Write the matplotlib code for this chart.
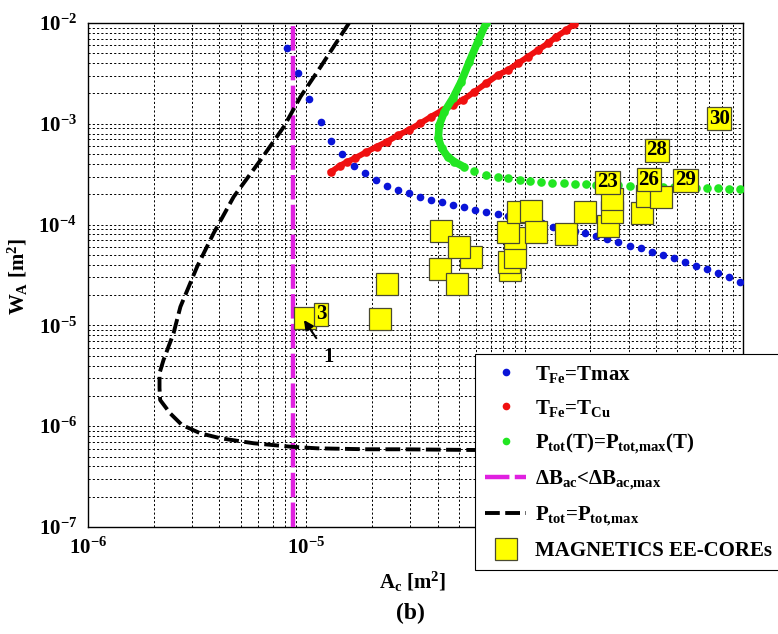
import math

import matplotlib
matplotlib.use("Agg")
import matplotlib.pyplot as plt
from matplotlib.ticker import FixedLocator, LogLocator, NullFormatter

plt.rcParams["font.family"] = ["Liberation Serif", "DejaVu Serif"]
plt.rcParams["font.weight"] = "bold"
plt.rcParams["mathtext.fontset"] = "custom"
plt.rcParams["mathtext.rm"] = "Liberation Serif:bold"
plt.rcParams["mathtext.it"] = "Liberation Serif:bold"
plt.rcParams["mathtext.bf"] = "Liberation Serif:bold"

# -------------------------------
# Data
# -------------------------------
tmax_x = [8.12e-6, 9.19e-6, 1.032e-5, 1.163e-5, 1.302e-5, 1.464e-5, 1.655e-5,
          1.853e-5, 2.082e-5, 2.338e-5, 2.618e-5, 2.94e-5, 3.315e-5, 3.724e-5,
          4.18e-5, 4.70e-5, 5.30e-5, 5.95e-5, 6.68e-5, 7.51e-5, 8.43e-5,
          9.48e-5, 1.064e-4, 1.196e-4, 1.343e-4, 1.509e-4, 1.695e-4, 1.898e-4,
          2.117e-4, 2.395e-4, 2.69e-4, 3.024e-4, 3.40e-4, 3.815e-4, 4.29e-4,
          4.82e-4, 5.41e-4, 6.08e-4, 6.82e-4, 7.67e-4, 8.64e-4, 9.70e-4]
tmax_y = [5.69e-3, 3.17e-3, 1.75e-3, 1.05e-3, 6.75e-4, 4.98e-4, 3.84e-4,
          3.23e-4, 2.77e-4, 2.43e-4, 2.20e-4, 2.04e-4, 1.89e-4, 1.75e-4,
          1.66e-4, 1.56e-4, 1.48e-4, 1.40e-4, 1.34e-4, 1.28e-4, 1.217e-4,
          1.154e-4, 1.093e-4, 1.037e-4, 9.53e-5, 9.04e-5, 8.64e-5, 8.2e-5,
          7.76e-5, 7.20e-5, 6.67e-5, 6.17e-5, 5.82e-5, 5.38e-5, 4.99e-5,
          4.63e-5, 4.26e-5, 3.91e-5, 3.60e-5, 3.29e-5, 3.00e-5, 2.71e-5]

tcu_x = [1.302e-5, 1.427e-5, 1.543e-5, 1.667e-5, 1.873e-5, 2.097e-5, 2.338e-5,
         2.618e-5, 2.94e-5, 3.326e-5, 3.724e-5, 4.213e-5, 4.685e-5, 5.206e-5,
         5.89e-5, 6.66e-5, 7.54e-5, 8.38e-5, 9.32e-5, 1.036e-4, 1.151e-4,
         1.279e-4, 1.397e-4, 1.552e-4, 1.685e-4]
tcu_y = [3.35e-4, 3.84e-4, 4.21e-4, 4.55e-4, 5.22e-4, 5.93e-4, 6.64e-4,
         7.66e-4, 8.68e-4, 1.01e-3, 1.176e-3, 1.37e-3, 1.536e-3, 1.72e-3,
         2.08e-3, 2.52e-3, 3.05e-3, 3.42e-3, 3.98e-3, 4.63e-3, 5.40e-3,
         6.29e-3, 7.31e-3, 8.52e-3, 9.77e-3]

ptot_t_x = [6.66e-5, 6.10e-5, 5.58e-5, 5.12e-5, 4.685e-5, 4.29e-5, 4.065e-5,
            4.02e-5, 4.17e-5, 4.44e-5, 4.76e-5, 5.26e-5, 5.89e-5, 6.66e-5,
            7.54e-5, 8.43e-5, 9.48e-5, 1.061e-4, 1.192e-4, 1.339e-4, 1.509e-4,
            1.695e-4, 1.905e-4, 2.133e-4, 2.395e-4, 2.69e-4, 3.024e-4, 3.40e-4,
            3.815e-4, 4.29e-4, 4.82e-4, 5.41e-4, 6.08e-4, 6.82e-4, 7.67e-4,
            8.61e-4, 9.68e-4]
ptot_t_y = [1.0e-2, 6.52e-3, 4.13e-3, 2.62e-3, 1.79e-3, 1.318e-3, 9.73e-4,
            7.18e-4, 5.71e-4, 4.72e-4, 4.21e-4, 3.75e-4, 3.40e-4, 3.10e-4,
            2.99e-4, 2.88e-4, 2.77e-4, 2.71e-4, 2.66e-4, 2.60e-4, 2.57e-4,
            2.545e-4, 2.51e-4, 2.49e-4, 2.47e-4, 2.455e-4, 2.43e-4, 2.415e-4,
            2.40e-4, 2.377e-4, 2.36e-4, 2.345e-4, 2.32e-4, 2.31e-4, 2.29e-4,
            2.28e-4, 2.27e-4]
N_DENSE = 12  # first points of the green curve are packed into a solid line

dbac_x = [8.65e-6, 8.65e-6]
dbac_y = [1e-7, 1e-2]

ptot_x = [1.569e-5, 1.163e-5, 9.41e-6, 7.89e-6, 6.17e-6, 4.65e-6, 3.76e-6,
          3.16e-6, 2.65e-6, 2.465e-6, 2.218e-6, 2.126e-6, 2.126e-6, 2.14e-6,
          2.38e-6, 2.69e-6, 3.27e-6, 4.04e-6, 5.74e-6, 8.47e-6, 1.123e-5,
          1.907e-5, 2.71e-5, 5.68e-5, 1.0e-4, 3.0e-4, 1.0e-3]
ptot_y = [1.0e-2, 3.68e-3, 1.86e-3, 9.36e-4, 4.37e-4, 1.89e-4, 8.2e-5,
          3.82e-5, 1.53e-5, 8.35e-6, 4.54e-6, 3.35e-6, 2.38e-6, 1.82e-6,
          1.34e-6, 1.03e-6, 8.5e-7, 7.59e-7, 6.77e-7, 6.26e-7, 6.03e-7,
          5.9e-7, 5.9e-7, 5.81e-7, 5.78e-7, 5.74e-7, 5.72e-7]

core_x = [9.85e-6, 2.171e-5, 2.33e-5, 4.12e-5, 4.10e-5, 5.69e-5, 4.98e-5,
          4.89e-5, 8.59e-5, 8.45e-5, 9.05e-5, 8.99e-5, 8.43e-5, 9.28e-5,
          1.072e-4, 1.122e-4, 1.552e-4, 1.885e-4, 2.42e-4, 2.50e-4, 2.50e-4,
          3.46e-4, 3.62e-4, 4.20e-4]
core_y = [1.192e-5, 1.157e-5, 2.57e-5, 8.68e-5, 3.61e-5, 4.72e-5, 5.93e-5,
          2.56e-5, 3.55e-5, 4.26e-5, 4.80e-5, 7.36e-5, 8.35e-5, 1.327e-4,
          1.365e-4, 8.35e-5, 8.16e-5, 1.324e-4, 9.68e-5, 1.324e-4, 1.815e-4,
          1.294e-4, 1.93e-4, 1.90e-4]

label_x = [1.172e-5, 2.395e-4, 3.70e-4, 4.04e-4, 5.45e-4, 7.78e-4]
label_y = [1.29e-5, 2.63e-4, 2.79e-4, 5.46e-4, 2.75e-4, 1.123e-3]
label_txt = ["3", "23", "26", "28", "29", "30"]

arrow_tip = (9.75e-6, 1.13e-5)
arrow_txt = (1.27e-5, 4.89e-6)

x_ticks = [1e-6, 1e-5, 1e-4, 1e-3]
x_ticklabels_shown = [True, True, False, False]  # the rest sit under the legend
y_ticks = [1e-7, 1e-6, 1e-5, 1e-4, 1e-3, 1e-2]

BLUE = "#0a14d8"
RED = "#f01010"
GREEN = "#22e622"
MAGENTA = "#e020e0"
YELLOW = "#ffff00"
EDGE = "#4a4a30"

fig = plt.figure(figsize=(7.78, 6.34), dpi=100, facecolor="white")
ax = fig.add_axes([0.1131, 0.1688, 0.8419, 0.7949])

ax.set_xscale("log")
ax.set_yscale("log")
ax.set_xlim(1e-6, 1e-3)
ax.set_ylim(1e-7, 1e-2)

h_tmax, = ax.plot(tmax_x, tmax_y, "o", color=BLUE, ms=5.5, mew=0, zorder=3,
                  label=r"$T_{Fe}$=Tmax")
ax.plot(tcu_x, tcu_y, "-", color=RED, lw=4.2, zorder=3)
h_tcu, = ax.plot(tcu_x, tcu_y, "o", color=RED, ms=6.2, mew=0, zorder=3,
                 label=r"$T_{Fe}$=$T_{Cu}$")
ax.plot(ptot_t_x[:N_DENSE], ptot_t_y[:N_DENSE], "-", color=GREEN, lw=5.5,
        solid_capstyle="round", zorder=3)
h_pt, = ax.plot(ptot_t_x, ptot_t_y, "o", color=GREEN, ms=6.2, mew=0, zorder=3,
                label=r"$P_{tot}$(T)=$P_{tot{,}max}$(T)")
h_db, = ax.plot(dbac_x, dbac_y, color=MAGENTA, lw=3.2, dashes=(5.5, 1.2),
                zorder=3, label=r"$\Delta B_{ac}$<$\Delta B_{ac{,}max}$")
h_pm, = ax.plot(ptot_x, ptot_y, color="black", lw=2.8, dashes=(3.8, 1.4),
                zorder=3, label=r"$P_{tot}$=$P_{tot{,}max}$")
h_core, = ax.plot(core_x, core_y, "s", color=YELLOW, ms=15.5, mec=EDGE,
                  mew=0.9, zorder=4, label="MAGNETICS EE-COREs")

for lx, ly, txt in zip(label_x, label_y, label_txt):
    ax.text(lx, ly, txt, ha="center", va="center", fontsize=15,
            fontweight="bold", zorder=5,
            bbox=dict(boxstyle="square,pad=0.08", facecolor=YELLOW,
                      edgecolor=EDGE, linewidth=0.9))

ax.annotate("1", xy=arrow_tip, xytext=arrow_txt, fontsize=15,
            fontweight="bold", ha="center", va="center", zorder=6,
            arrowprops=dict(arrowstyle="-|>", color="black", lw=1.5,
                            mutation_scale=14, shrinkA=6, shrinkB=0))

# grid: dotted black on every decade and sub-decade line
ax.xaxis.set_major_locator(FixedLocator(x_ticks))
ax.yaxis.set_major_locator(FixedLocator(y_ticks))
ax.xaxis.set_minor_locator(LogLocator(base=10, subs=range(2, 10)))
ax.yaxis.set_minor_locator(LogLocator(base=10, subs=range(2, 10)))
ax.xaxis.set_minor_formatter(NullFormatter())
ax.yaxis.set_minor_formatter(NullFormatter())
ax.set_xticklabels([
    r"$10^{%d}$" % round(math.log10(t)) if shown else ""
    for t, shown in zip(x_ticks, x_ticklabels_shown)
])
ax.set_yticklabels([r"$10^{%d}$" % round(math.log10(t)) for t in y_ticks])

ax.grid(True, which="both", color="black", linestyle=(0, (2.2, 2.2)),
        linewidth=0.7)
ax.set_axisbelow(True)

ax.tick_params(which="both", direction="in", top=True, right=True,
               length=0, labelsize=15, pad=8)
for spine in ax.spines.values():
    spine.set_linewidth(1.0)

ax.set_xlabel(r"$A_c$ [m$^2$]", fontsize=15, fontweight="bold")
ax.xaxis.set_label_coords(0.496, -0.085)
ax.set_ylabel(r"$W_A$ [m$^2$]", fontsize=15, fontweight="bold")
ax.yaxis.set_label_coords(-0.088, 0.496)

fig.text(0.527, 0.033, "(b)", fontsize=17, fontweight="bold",
         ha="center", va="center")

leg = fig.legend(
    handles=[h_tmax, h_tcu, h_pt, h_db, h_pm, h_core],
    loc="upper left",
    bbox_to_anchor=(0.611, 0.441),
    bbox_transform=fig.transFigure,
    fontsize=15,
    frameon=True,
    fancybox=False,
    framealpha=1,
    edgecolor="black",
    handlelength=2.0,
    handletextpad=0.4,
    labelspacing=0.62,
    borderpad=0.45,
    borderaxespad=0,
)
leg.set_zorder(10)
leg.get_frame().set_linewidth(0.8)
for lh in leg.legend_handles[:3]:
    lh.set_markersize(5.5)

fig.savefig("out.png", dpi=100, facecolor="white")
